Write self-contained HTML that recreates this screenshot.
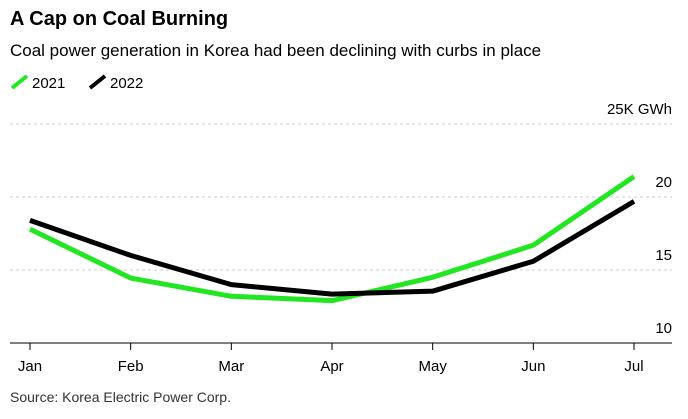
<!DOCTYPE html>
<html><head><meta charset="utf-8"><style>
body{margin:0;background:#fff;font-family:"Liberation Sans",sans-serif;}
#wrap{position:relative;width:688px;height:419px;overflow:hidden}
</style></head><body>
<div id="wrap">
<div style="position:absolute;left:10px;top:8px;font-size:20px;font-weight:bold;color:#000">A Cap on Coal Burning</div>
<div style="position:absolute;left:10px;top:41px;font-size:17px;color:#000">Coal power generation in Korea had been declining with curbs in place</div>
<svg id="chart" width="688" height="419" style="position:absolute;left:0;top:0"></svg>
</div>
<script>
const months=["Jan","Feb","Mar","Apr","May","Jun","Jul"];
const values2021=[17.8,14.45,13.2,12.9,14.5,16.7,21.4];
const values2022=[18.4,16.0,14.0,13.35,13.55,15.6,19.7];
const yTicks=[10,15,20,25];
const yTickLabels=["10","15","20","25K GWh"];
const NS="http://www.w3.org/2000/svg";
const svg=document.getElementById('chart');
function x(i){return 30+i*(634-30)/6;}
function y(v){return 343-(v-10)*14.6;}
function mk(t,a){const e=document.createElementNS(NS,t);for(const k in a)e.setAttribute(k,a[k]);svg.appendChild(e);return e;}
// legend
[["2021","#22e622",12],["2022","#000",90]].forEach(([lab,c,lx])=>{
  const l=mk('line',{x1:lx,y1:88,x2:lx+15,y2:76,stroke:c,'stroke-width':4});
  
  
  const t=mk('text',{x:lx+20,y:88,'font-size':15,fill:'#000'});t.textContent=lab;
  
  
});
yTicks.forEach((v,i)=>{
  if(v>10){const g=mk('line',{x1:10,x2:672,y1:y(v),y2:y(v),stroke:'#ccc','stroke-dasharray':'3,3'});
  
  }
  const t=mk('text',{x:672,y:y(v)-10,'font-size':15,'text-anchor':'end',fill:'#000'});t.textContent=yTickLabels[i];
  
  
});
const ax=mk('line',{x1:10,x2:672,y1:343,y2:343,stroke:'#000','stroke-width':1});


months.forEach((m,i)=>{
  const tk=mk('line',{x1:x(i),x2:x(i),y1:343,y2:350,stroke:'#000'});
  
  
  const t=mk('text',{x:x(i),y:371,'font-size':15,'text-anchor':'middle',fill:'#000'});t.textContent=m;
  
  
});
function line(vals,c,name){
  const p=mk('polyline',{points:vals.map((v,i)=>x(i)+','+y(v)).join(' '),fill:'none',stroke:c,'stroke-width':5,'stroke-linejoin':'round'});
  
  
}
line(values2021,'#22e622','series-2021-line');
line(values2022,'#000','series-2022-line');
const s=mk('text',{x:10,y:402,'font-size':14,fill:'#333'});s.textContent='Source: Korea Electric Power Corp.';


</script>
</body></html>
